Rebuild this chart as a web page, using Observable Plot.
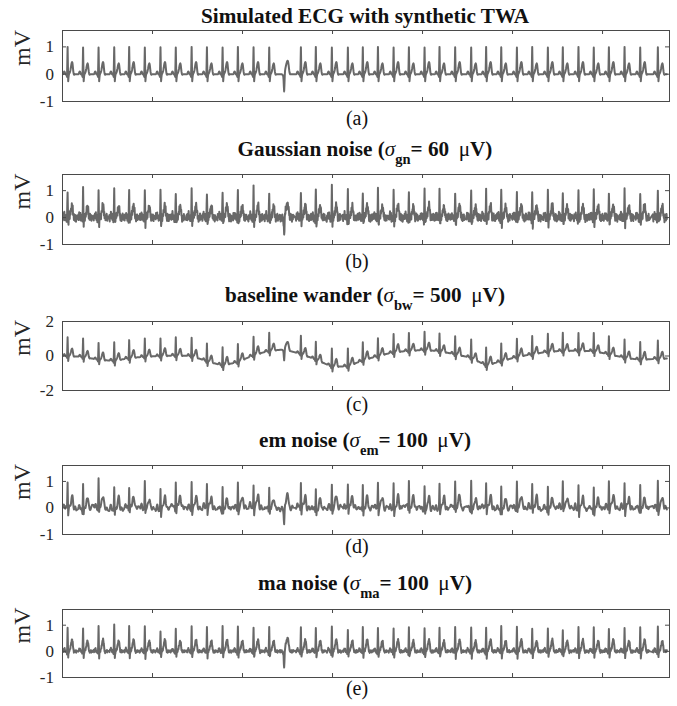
<!DOCTYPE html>
<html><head><meta charset="utf-8">
<script src="https://cdn.jsdelivr.net/npm/d3@7"></script>
<script src="https://cdn.jsdelivr.net/npm/@observablehq/plot@0.6"></script>
<style>
body{margin:0;background:#fff;overflow:hidden}
#root{position:relative;width:677px;height:706px;font-family:"Liberation Serif","Times New Roman",serif;color:#111}
.title{position:absolute;left:65px;width:600px;text-align:center;white-space:nowrap;font-size:21.2px;line-height:21.2px;font-weight:bold}
.title i{font-weight:normal}
.sub{position:relative;top:8px;font-size:14.5px}
.mu{font-weight:normal}
.cap{position:absolute;left:257px;width:200px;text-align:center;font-size:20px;line-height:20px}
.panel{position:absolute;left:0}
.panel text{font-family:"Liberation Serif","Times New Roman",serif}
</style></head><body><div id="root"></div><script>
// ---- data ----
const beatTimes = [0.28,1.14,2.00,2.87,3.70,4.57,5.44,6.29,7.17,8.02,8.89,9.74,10.61,11.48,12.31,13.24,14.07,14.96,15.85,16.68,17.52,18.39,19.24,20.11,20.94,21.81,22.70,23.53,24.37,25.24,26.09,26.96,27.79,28.66,29.51,30.35,31.22,32.09,33.07];
const beatKind = ["N","N","N","N","N","N","N","N","N","N","N","N","N","N","V","N","N","N","N","N","N","N","N","N","N","N","N","N","N","N","N","N","N","N","N","N","N","N","N"];
const tmplStart = -0.28, tmplStep = 1/60;
const beatQRS = [0,0,0.01,0.03,0.06,0.09,0.10,0.09,0.06,0.02,0,-0.01,-0.01,-0.02,-0.04,-0.10,0.40,1.00,0.35,-0.26,-0.12,-0.03,0,0,0,0,0,0,0,0,0,0,0,0,0,0,0,0,0,0,0,0,0,0,0,0,0,0];
const beatT   = [0,0,0,0,0,0,0,0,0,0,0,0,0,0,0,0,0,0,0,0,0,0,0.01,0.03,0.05,0.08,0.12,0.17,0.23,0.30,0.36,0.40,0.42,0.39,0.31,0.20,0.10,0.03,-0.01,-0.02,-0.01,0,0,0,0,0,0,0];
const ectopicBeat = [0,0,0,0,0,0,0,0,0,0,-0.01,-0.02,-0.03,-0.05,-0.08,-0.20,-0.45,-0.63,-0.38,-0.06,0.12,0.20,0.26,0.31,0.36,0.40,0.44,0.47,0.49,0.49,0.46,0.40,0.32,0.22,0.13,0.06,0.02,0,0,0,0,0,0,0,0,0,0,0];
const twaScale = [1.06,0.94,1.06,0.94,1.06,0.94,1.06,0.94,1.06,0.94,1.06,0.94,1.06,0.94,0,1.06,0.94,1.06,0.94,1.06,0.94,1.06,0.94,1.06,0.94,1.06,0.94,1.06,0.94,1.06,0.94,1.06,0.94,1.06,0.94,1.06,0.94,1.06,0.94];
const rAmpA = [1.0,0.98,0.98,0.99,1.0,0.98,0.99,0.98,1.0,0.99,0.98,1.0,0.99,0.98,1,0.99,1.0,0.98,0.98,0.99,1.0,0.98,0.99,0.98,1.0,0.99,0.98,1.0,0.99,0.98,1.0,0.98,0.99,1.0,0.98,0.99,1.0,0.98,0.99];
const rAmpB = [1.01,1.06,0.91,1.04,1.01,0.98,1.01,0.98,1.01,1.01,1.04,1.01,1.04,0.98,1,1.04,1.06,1.06,1.01,1.04,1.0,0.98,0.98,1.04,1.01,0.98,1.06,1.01,1.1,0.98,0.98,0.98,0.98,0.98,1.01,0.98,1.01,0.98,1.04];
const rAmpC = [1.08,1.06,0.98,1.08,1.04,1.06,1.02,1.05,1.06,1.03,1.05,1.04,1.06,1.05,1,1.05,1.03,1.06,1.04,1.05,1.03,1.06,1.04,1.05,1.03,1.05,1.06,1.04,1.03,1.05,1.06,1.04,1.05,1.03,1.06,1.04,1.05,1.03,1.05];
const rAmpD = [0.94,0.98,1.04,0.88,0.79,0.91,0.83,0.98,0.95,0.85,0.85,0.91,0.85,0.83,1,0.98,0.83,0.83,0.83,0.94,0.91,0.91,1.0,0.79,0.85,0.91,1.0,0.88,0.91,0.95,0.91,0.90,0.85,0.94,0.90,0.91,0.91,0.88,0.98];
const rAmpE = [0.88,0.90,0.94,1.04,0.94,0.92,0.80,0.82,0.92,0.92,0.92,0.92,0.92,0.92,1,0.92,0.92,0.94,0.82,0.88,0.92,0.92,0.90,0.92,0.92,0.94,0.92,0.92,1.0,0.92,0.88,0.92,0.82,0.92,0.90,0.88,0.88,0.92,0.92];
const wanderC = [0.0,-0.05,-0.22,-0.28,-0.12,-0.04,0.0,0.03,0.0,-0.3,-0.55,-0.35,0.05,0.3,0.38,0.12,-0.2,-0.62,-0.6,-0.25,0.0,0.22,0.3,0.35,0.28,0.1,-0.1,-0.55,-0.3,-0.05,0.1,0.25,0.3,0.3,0.28,0.1,-0.1,-0.22,-0.15];
const driftD = [0.02,-0.04,0.05,-0.06,0.03,0.0,-0.05,0.06,-0.02,0.04,-0.07,0.02,0.05,-0.03,-0.02,0.04,-0.06,0.01,0.05,-0.04,0.03,-0.02,0.06,-0.05,0.0,0.04,-0.03,0.05,-0.06,0.02,0.03,-0.04,0.05,-0.02,-0.05,0.04,0.01,-0.03,0.02];
const gaussNoise = [0.05,-0.08,0.02,0.11,-0.04,-0.07,0.09,0.01,-0.12,0.06,0.03,-0.05,0.08,-0.02,-0.09,0.04,0.10,-0.06,0.00,0.07,-0.11,0.03,0.05,-0.03,-0.08,0.12,-0.01,-0.05,0.06,0.02,-0.10,0.08,-0.04,0.03,0.09,-0.07,-0.02,0.05,-0.06,0.11,0.01,-0.09,0.04,-0.03,0.07,-0.12,0.06,0.02,-0.05,0.09,-0.08,0.00,0.10,-0.04,-0.06,0.03,0.08,-0.10,0.05,-0.01,0.04,-0.07,0.11,-0.03,-0.09,0.06,0.01,-0.05,0.08,-0.02,0.03,-0.11,0.07,0.04,-0.06,0.02,-0.08,0.10,-0.01,0.05,-0.04,-0.07,0.09,0.00,-0.10,0.06,0.03,-0.05,0.12,-0.03,-0.06,0.04,0.07,-0.09,0.02,0.05,-0.02,-0.08,0.06,0.01,-0.04];
const emNoise = [0,0.02,0.04,0.05,0.04,0.01,-0.02,-0.05,-0.06,-0.05,-0.02,0.01,0.03,0.06,0.08,0.07,0.04,0.00,-0.03,-0.04,-0.03,-0.01,0.02,0.03,0.02,-0.01,-0.04,-0.07,-0.08,-0.06,-0.03,0.00,0.02,0.05,0.06,0.05,0.02,-0.01,-0.03,-0.02,0.00,0.03,0.05,0.04,0.01,-0.03,-0.06,-0.05,-0.02,0.01,0.04,0.07,0.06,0.03,-0.01,-0.04,-0.05,-0.03,0.00,0.02,0.01,-0.02,-0.05,-0.07,-0.06,-0.03,0.01,0.04,0.06,0.05,0.03,0.00,-0.02,-0.04,-0.03,-0.01,0.02,0.04,0.03,0.00,-0.03];
const maNoise = [0.03,-0.02,0.04,-0.05,0.01,0.02,-0.03,0.05,-0.01,-0.04,0.02,0.03,-0.02,0.00,0.04,-0.03,-0.05,0.02,0.01,-0.01,0.05,-0.04,0.02,-0.02,0.03,0.00,-0.03,0.04,-0.01,0.02,-0.05,0.03,0.01,-0.02,0.04,-0.03,0.00,0.02,-0.04,0.05,-0.01,-0.02,0.03,0.01,-0.03,0.04,-0.05,0.02,0.00,-0.01,0.03,-0.02,0.05,-0.04,0.01,0.02,-0.03,0.00,0.04,-0.02,-0.01,0.03,-0.05,0.02,0.04,-0.03,0.01,-0.02,0.03,-0.04,0.00,0.05,-0.01,-0.03,0.02,0.01,-0.04,0.03,-0.02,0.04,0.00,-0.05,0.02,0.03,-0.01,-0.02,0.04,-0.03,0.01];
const xDomain = [0, 33.72];
const xTicks = [5,10,15,20,25,30];
const yTicksSmall = [-1,0,1];
const yTicksLarge = [-2,0,2];
const titles = [
  'Simulated ECG with synthetic TWA',
  'Gaussian noise (<i>σ</i><span class="sub">gn</span>= 60 \u2009<span class="mu">μ</span>V)',
  'baseline wander (<i>σ</i><span class="sub">bw</span>= 500 \u2009<span class="mu">μ</span>V)',
  'em noise (<i>σ</i><span class="sub">em</span>= 100 \u2009<span class="mu">μ</span>V)',
  'ma noise (<i>σ</i><span class="sub">ma</span>= 100 \u2009<span class="mu">μ</span>V)'
];
const captions = ["(a)","(b)","(c)","(d)","(e)"];

// ---- build signals ----
function baseAt(arr, t) {
  if (t <= beatTimes[0]) return arr[0];
  for (let i = 0; i < beatTimes.length - 1; i++) {
    if (t <= beatTimes[i + 1]) {
      const f = (t - beatTimes[i]) / (beatTimes[i + 1] - beatTimes[i]);
      return arr[i] + f * (arr[i + 1] - arr[i]);
    }
  }
  return arr[arr.length - 1];
}
function buildSignal(rAmp, opts = {}) {
  const out = []; let n = 0;
  beatTimes.forEach((T, i) => {
    const ect = beatKind[i] === "V";
    for (let k = 0; k < beatQRS.length; k++) {
      const t = T + tmplStart + k * tmplStep;
      let v = ect ? ectopicBeat[k] : rAmp[i] * beatQRS[k] + twaScale[i] * beatT[k];
      if (opts.wander) v += baseAt(opts.wander, t);
      if (opts.noise) v += opts.noise[n % opts.noise.length] * (opts.gain || 1);
      out.push({t, v}); n++;
    }
  });
  return out;
}

const FONT = '"Liberation Serif","Times New Roman",serif';
const layout = [
  {top: 30, bottom: 101, yDomain: [-1, 1.6], yTicks: yTicksSmall, titleBase: 23.3, capBase: 125, sw: 2, data: buildSignal(rAmpA)},
  {top: 174, bottom: 244, yDomain: [-1, 1.6], yTicks: yTicksSmall, titleBase: 156.7, capBase: 268, sw: 2, data: buildSignal(rAmpB, {noise: gaussNoise, gain: 1.3})},
  {top: 321, bottom: 390, yDomain: [-2, 2], yTicks: yTicksLarge, titleBase: 302.7, capBase: 411, sw: 2, data: buildSignal(rAmpC, {wander: wanderC})},
  {top: 465, bottom: 534, yDomain: [-1, 1.6], yTicks: yTicksSmall, titleBase: 447.3, capBase: 553, sw: 2, data: buildSignal(rAmpD, {wander: driftD, noise: emNoise, gain: 1.3})},
  {top: 609, bottom: 677, yDomain: [-1, 1.6], yTicks: yTicksSmall, titleBase: 590.7, capBase: 695, sw: 2, data: buildSignal(rAmpE, {noise: maNoise})}
];

const root = document.getElementById("root");
const frameW = 677 - 62 - 8;
layout.forEach((p, i) => {
  const fh = p.bottom - p.top, mt = 12, mb = 12;
  const axisColor = "#4a4a4a";
  const svg = Plot.plot({
    width: 677, height: fh + mt + mb,
    marginLeft: 62, marginRight: 8, marginTop: mt, marginBottom: mb,
    style: {fontFamily: FONT, fontSize: "17px", color: "#262626", background: "transparent", overflow: "visible"},
    x: {domain: xDomain, axis: null},
    y: {domain: p.yDomain, axis: null},
    marks: [
      Plot.line(p.data, {x: "t", y: "v", stroke: "#686868", strokeWidth: p.sw, clip: true}),
      Plot.frame({stroke: axisColor, strokeWidth: 1}),
      Plot.tickX(xTicks, {x: d => d, insetTop: fh - 4, stroke: axisColor}),
      Plot.tickX(xTicks, {x: d => d, insetBottom: fh - 4, stroke: axisColor}),
      Plot.tickY(p.yTicks, {y: d => d, insetRight: frameW - 4, stroke: axisColor}),
      Plot.tickY(p.yTicks, {y: d => d, insetLeft: frameW - 4, stroke: axisColor}),
      Plot.axisY(p.yTicks, {tickSize: 0, tickPadding: 8.5, tickFormat: d => String(d), label: null, fontSize: 17, fontFamily: FONT}),
      Plot.text(["mV"], {frameAnchor: "left", dx: -40, rotate: -90, fontSize: 24, fontFamily: FONT, fill: "#262626"})
    ]
  });
  svg.classList.add("panel");
  svg.style.top = (p.top - mt) + "px";
  root.appendChild(svg);

  const t = document.createElement("div");
  t.className = "title";
  t.innerHTML = titles[i];
  t.style.top = (p.titleBase - 0.8375 * 21.2) + "px";
  root.appendChild(t);

  const c = document.createElement("div");
  c.className = "cap";
  c.textContent = captions[i];
  c.style.top = (p.capBase - 0.8375 * 20) + "px";
  root.appendChild(c);
});
</script></body></html>
